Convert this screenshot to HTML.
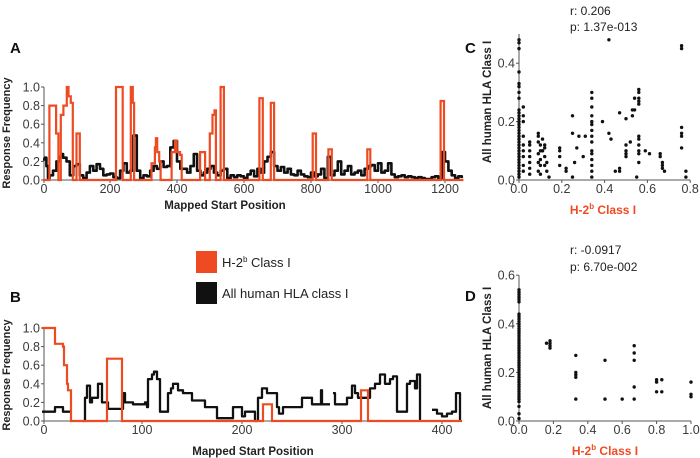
<!DOCTYPE html>
<html><head><meta charset="utf-8"><style>
body{margin:0;background:#fff;}
svg{display:block;font-family:"Liberation Sans",Arial,sans-serif;}
</style></head><body>
<svg id="fig" width="700" height="458" viewBox="0 0 700 458"></svg>
<script>
// ---------- DATA ----------
const ticksA = [0,200,400,600,800,1000,1200];
const ticksB = [0,100,200,300,400];
const yTicksLine = [0,0.2,0.4,0.6,0.8,1.0];
const yTickLabelsLine = ["0.0","0.2","0.4","0.6","0.8","1.0"];
// Panel A orange (H-2b) step vertices: value holds from x[i] to x[i+1]
const orangeAx = [0,19,39,46,53,61,71,76,83,89,100,110,218,238,262,268,272,324,334,337,341,347,351,384,394,399,409,414,469,484,498,506,512,516,530,540,646,656,680,690,805,815,852,862,968,977,1187,1197,1255];
const orangeAy = [0,0.8,0.5,0,0.7,0.8,1.0,0.9,0.83,0,0.5,0,1.0,0,1.0,0.83,0,0.18,0.35,0.45,0.3,0.2,0,0.3,0.42,0.3,0.27,0,0.3,0,0.5,0.7,0.75,0,1.0,0,0.88,0,0.83,0,0.5,0,0.33,0,0.33,0,0.85,0,0];
// Panel A black (human HLA), sampled every 10 positions
const blackAx = [0,5,10,15,20,30,40,50,55,60,70,80,90,100,110,120,130,140,150,160,170,180,190,200,210,220,230,240,250,260,270,280,290,300,310,320,330,340,350,360,370,380,390,400,410,420,430,440,450,460,470,480,490,500,510,520,530,540,550,560,570,580,590,600,610,620,630,640,650,660,670,680,690,700,710,720,730,740,750,760,770,780,790,800,810,820,830,840,850,860,870,880,890,900,910,920,930,940,950,960,970,980,990,1000,1010,1020,1030,1040,1050,1060,1070,1080,1090,1100,1110,1120,1130,1140,1150,1160,1170,1180,1190,1200,1210,1220,1230,1240,1250];
const blackAy = [0.22,0.24,0.15,0.02,0.05,0.1,0.2,0.25,0.28,0.24,0.2,0.05,0.15,0.17,0.05,0.02,0.08,0.15,0.1,0.17,0.12,0.05,0.06,0.07,0.03,0.02,0.1,0.18,0.08,0.1,0.48,0.1,0.02,0.05,0.04,0.1,0.15,0.12,0.2,0.14,0.15,0.35,0.42,0.2,0.12,0.12,0.08,0.15,0.28,0.1,0.05,0.08,0.12,0.15,0.08,0.05,0.1,0.12,0.02,0.05,0.03,0.05,0.04,0.02,0.06,0.1,0.04,0.12,0.08,0.2,0.25,0.3,0.15,0.1,0.14,0.08,0.12,0.06,0.05,0.1,0.06,0.04,0.03,0.08,0.04,0.06,0.12,0.02,0.25,0.05,0.1,0.2,0.06,0.1,0.15,0.06,0.08,0.1,0.05,0.12,0.15,0.16,0.1,0.18,0.08,0.1,0.18,0.06,0.03,0.04,0.05,0.03,0.04,0.03,0.02,0.03,0.02,0.01,0.01,0.03,0.04,0.02,0.3,0.2,0.1,0.05,0.02,0.04,0.02];
// Panel B orange
const orangeBx = [0,13,21,22,25,26,27,29,65,80,221,230,319,326,420];
const orangeBy = [1.0,0.83,0.8,0.6,0.4,0.33,0.33,0,0.67,0,0.18,0,0.33,0,0];
// Panel B black (null = gap)
const blackBx = [0,10,13,20,21,28,29,41,43,45,48,50,56,58,60,65,66,80,81,83,90,91,101,103,105,106,110,112,115,118,125,126,129,131,136,140,141,148,150,161,163,171,175,190,191,198,200,203,211,213,216,220,225,233,235,237,241,250,260,268,270,278,279,280,288,289,291,293,303,305,310,313,316,328,333,338,343,348,351,355,358,361,365,368,371,373,375,376,378,384,390,395,400,405,410,414,418];
const blackBy = [0.1,0.1,0.15,0.15,0.1,0.1,null,0,0.25,0.38,0.2,0.25,0.4,0.4,0.2,0.2,0.13,0.13,0.3,0.2,0.2,0.18,0.18,0.2,0.15,0.45,0.5,0.53,0.45,0.1,0.1,0.3,0.35,0.4,0.33,0.33,0.3,0.3,0.22,0.22,0.15,0.15,0.03,0.03,0.15,0.15,0.05,0.1,0.1,0,0.25,0.35,0.3,0.3,0.15,0.08,0.15,0.15,0.25,0.25,0.18,0.18,0.33,0.18,0.18,null,0.3,0.18,0.18,0.25,0.38,0.3,0.25,0.35,0.4,0.5,0.4,0.45,0.48,0.1,0.1,0.1,0.4,0.43,0.43,0.35,0.5,0.5,0,null,0.12,0.08,0.05,0.08,0.1,0.3,0];
// Panel C scatter
const scatterCx = [0,0,0,0,0,0,0,0,0,0,0,0,0,0,0,0,0,0,0,0,0,0,0,0,0,0,0,0,0,0,0,0,
 0.02,0.02,0.02,0.02,0.02,0.02,0.02,0.02,0.02,
 0.05,0.05,0.05,0.05,0.05,0.05,0.05,
 0.09,0.09,0.09,0.1,0.1,0.09,0.1,0.09,0.1,0.09,0.1,
 0.11,0.12,0.11,0.12,0.13,0.12,0.13,0.12,0.11,0.14,
 0.19,0.19,0.19,0.19,0.22,0.22,0.25,0.25,0.25,0.26,0.27,0.28,0.3,0.31,
 0.34,0.34,0.34,0.34,0.34,0.34,0.34,0.34,0.34,0.34,0.34,0.34,0.34,0.34,0.34,
 0.39,0.42,0.42,0.43,0.45,0.47,0.47,0.47,0.5,0.5,0.5,0.5,0.5,0.52,0.53,0.53,0.54,0.54,0.55,
 0.56,0.56,0.56,0.56,0.56,0.56,0.56,0.56,0.56,0.56,0.56,0.59,0.61,0.66,0.66,0.67,0.67,0.67,0.68,
 0.76,0.76,0.76,0.76,0.76,0.76,0.78,0.78];
const scatterCy = [0.48,0.47,0.45,0.37,0.33,0.32,0.3,0.28,0.24,0.23,0.22,0.21,0.2,0.19,0.18,0.17,0.16,0.15,0.14,0.13,0.12,0.11,0.1,0.09,0.08,0.07,0.06,0.05,0.04,0.03,0.02,0.01,
 0.25,0.22,0.2,0.15,0.12,0.1,0.08,0.05,0.03,
 0.13,0.12,0.1,0.08,0.06,0.04,0.02,
 0.16,0.15,0.13,0.12,0.1,0.09,0.07,0.06,0.05,0.03,0.02,
 0.14,0.12,0.1,0.08,0.06,0.05,0.03,0.11,0.1,0.01,
 0.11,0.1,0.08,0.05,0.04,0.03,0.22,0.16,0.01,0.06,0.11,0.15,0.08,0.15,
 0.3,0.28,0.25,0.22,0.2,0.19,0.17,0.15,0.13,0.1,0.09,0.07,0.05,0.03,0.01,
 0.2,0.48,0.16,0.14,0.03,0.23,0.04,0.03,0.21,0.12,0.1,0.09,0.08,0.13,0.24,0.22,0.28,0.24,0.01,
 0.31,0.3,0.28,0.27,0.26,0.15,0.14,0.12,0.1,0.09,0.06,0.1,0.09,0.09,0.08,0.06,0.05,0.04,0.03,
 0.46,0.45,0.18,0.16,0.15,0.11,0.03,0.01];
const xTicksC = [0,0.2,0.4,0.6,0.8];
const yTicksC = [0,0.2,0.4];
// Panel D scatter
const scatterDx = [0,0,0,0,0,0,0,0,0,0,0,0,0,0,0,0,0,0,0,0,0,0,0,0,0,0,0,0,0,0,0,0,0,0,0,0,0,0,0,0,0,0,0,0,0,0,
 0.16,0.18,0.18,0.18,0.18,0.33,0.33,0.33,0.33,0.33,0.5,0.5,0.6,0.67,0.67,0.67,0.67,0.67,0.8,0.8,0.8,0.83,0.83,1.0,1.0,1.0];
const scatterDy = [0.54,0.53,0.52,0.51,0.5,0.49,0.44,0.43,0.42,0.41,0.4,0.39,0.38,0.37,0.36,0.35,0.34,0.33,0.32,0.31,0.3,0.29,0.28,0.27,0.26,0.25,0.24,0.23,0.22,0.21,0.2,0.19,0.18,0.17,0.16,0.15,0.14,0.13,0.12,0.11,0.1,0.09,0.08,0.06,0.03,0.01,
 0.32,0.33,0.32,0.31,0.3,0.27,0.2,0.19,0.18,0.09,0.25,0.09,0.09,0.31,0.28,0.25,0.14,0.09,0.17,0.16,0.12,0.17,0.12,0.16,0.11,0.1];
const xTicksD = [0,0.2,0.4,0.6,0.8,1.0];
const yTicksD = [0,0.2,0.4,0.6];

// ---------- HELPERS ----------
const NS="http://www.w3.org/2000/svg";
const svg=document.getElementById('fig');
function mk(tag,attrs,parent,txt){const e=document.createElementNS(NS,tag);for(const k in attrs)e.setAttribute(k,attrs[k]);if(txt!==undefined)e.textContent=txt;(parent||svg).appendChild(e);return e;}
const ORANGE="#ef4b23", TXT="#3a3a3a";
const fmt=v=>v.toFixed(1);

function axes(g,xs,ys,x0,x1,y0,y1,xt,xl,yt,yl){
  mk('line',{x1:x0,y1:y0,x2:x1,y2:y0,stroke:'#555','stroke-width':1},g);
  mk('line',{x1:x0,y1:y0,x2:x0,y2:y1,stroke:'#555','stroke-width':1},g);
  xt.forEach((v,i)=>{const x=Math.max(x0,xs(v));
    mk('line',{x1:x,y1:y0,x2:x,y2:y0+3,stroke:'#555'},g);
    const t=mk('text',{x:x,y:y0+13,'text-anchor':'middle','font-size':12.5,fill:TXT},g,xl[i]);
    
    });
  yt.forEach((v,i)=>{const y=ys(v);
    mk('line',{x1:x0-3,y1:y,x2:x0,y2:y,stroke:'#555'},g);
    const t=mk('text',{x:x0-4,y:y+4.5,'text-anchor':'end','font-size':12.5,fill:TXT},g,yl[i]);
    
    });
}
function stepPath(xs,ys,X,Y){let d="",pen=false;
  for(let i=0;i<X.length;i++){ if(Y[i]===null){pen=false;continue;}
    const x=xs(X[i]).toFixed(1),y=ys(Y[i]).toFixed(1);
    if(!pen){d+="M"+x+","+y;pen=true;} else {d+="H"+x+"V"+y;}
  } return d;}

// ---------- PANEL A ----------
const gA=mk('g',{});  
const xA=v=>43+0.335*v, yA=v=>180-93*v;
axes(gA,xA,yA,44,xA(1255),180,yA(1.0),ticksA,ticksA.map(String),yTicksLine,yTickLabelsLine);
const bA=mk('path',{d:stepPath(xA,yA,blackAx,blackAy),fill:'none',stroke:'#111','stroke-width':2.6,'stroke-linejoin':'round'},gA);
 
const oA=mk('path',{d:stepPath(xA,yA,orangeAx,orangeAy),fill:'none',stroke:ORANGE,'stroke-width':2.2},gA);
 
mk('text',{x:10,y:53,'font-size':15,'font-weight':'bold',fill:'#111',},gA,'A');
mk('text',{x:0,y:0,transform:'translate(10,133) rotate(-90)','text-anchor':'middle','font-size':11,'font-weight':'bold',fill:'#222',},gA,'Response Frequency');
mk('text',{x:225,y:209,'text-anchor':'middle','font-size':11.5,'font-weight':'bold',fill:'#222',},gA,'Mapped Start Position');

// ---------- LEGEND ----------
const gL=mk('g',{});  
mk('rect',{x:196,y:251,width:21,height:22,fill:ORANGE,},gL);
const lt=mk('text',{x:222,y:267,'font-size':13,fill:'#222',},gL);
lt.innerHTML='H-2<tspan dy="-5" font-size="8">b</tspan><tspan dy="5"> Class I</tspan>';
mk('rect',{x:196,y:282,width:21,height:22,fill:'#111',},gL);
mk('text',{x:222,y:298,'font-size':13,fill:'#222',},gL,'All human HLA class I');

// ---------- PANEL B ----------
const gB=mk('g',{});  
const xB=v=>42+v, yB=v=>421-93*v;
axes(gB,xB,yB,44,xB(420),421,yB(1.0),ticksB,ticksB.map(String),yTicksLine,yTickLabelsLine);
const bB=mk('path',{d:stepPath(xB,yB,blackBx,blackBy),fill:'none',stroke:'#111','stroke-width':2.3,'stroke-linejoin':'round'},gB);
 
const oB=mk('path',{d:stepPath(xB,yB,orangeBx,orangeBy),fill:'none',stroke:ORANGE,'stroke-width':2.2},gB);
 
mk('text',{x:10,y:302,'font-size':15,'font-weight':'bold',fill:'#111',},gB,'B');
mk('text',{x:0,y:0,transform:'translate(10,375) rotate(-90)','text-anchor':'middle','font-size':11,'font-weight':'bold',fill:'#222',},gB,'Response Frequency');
mk('text',{x:253,y:455,'text-anchor':'middle','font-size':11.5,'font-weight':'bold',fill:'#222',},gB,'Mapped Start Position');

// ---------- SCATTER ----------
function scatter(name,xs,ys,X,Y,g){X.forEach((v,i)=>{const c=mk('circle',{cx:xs(v).toFixed(1),cy:ys(Y[i]).toFixed(1),r:1.7,fill:'#111'},g);
   });}
function xtitle(g,x,y,name){const t=mk('text',{x:x,y:y,'text-anchor':'middle','font-size':12,'font-weight':'bold',fill:ORANGE,},g);
  t.innerHTML='H-2<tspan dy="-5" font-size="8">b</tspan><tspan dy="5"> Class I</tspan>';}

const gC=mk('g',{});  
const xC=v=>519+214*v, yC=v=>180-292*v;
axes(gC,xC,yC,519,xC(0.8),180,yC(0.5),xTicksC,xTicksC.map(fmt),yTicksC,yTicksC.map(fmt));
scatter('scatter-point-c',xC,yC,scatterCx,scatterCy,gC);
mk('text',{x:570,y:15,'font-size':12,fill:'#222',},gC,'r:  0.206');
mk('text',{x:570,y:31,'font-size':12,fill:'#222',},gC,'p: 1.37e-013');
mk('text',{x:465,y:53,'font-size':15,'font-weight':'bold',fill:'#111',},gC,'C');
mk('text',{x:0,y:0,transform:'translate(491,102) rotate(-90)','text-anchor':'middle','font-size':11.5,'font-weight':'bold',fill:'#222',},gC,'All human HLA Class I');
xtitle(gC,603,214,'x-axis-title-c');

const gD=mk('g',{});  
const xD=v=>519+172*v, yD=v=>421-243*v;
axes(gD,xD,yD,519,xD(1.0),421,yD(0.6),xTicksD,xTicksD.map(fmt),yTicksD,yTicksD.map(fmt));
scatter('scatter-point-d',xD,yD,scatterDx,scatterDy,gD);
mk('text',{x:570,y:254,'font-size':12,fill:'#222',},gD,'r:  -0.0917');
mk('text',{x:570,y:271,'font-size':12,fill:'#222',},gD,'p: 6.70e-002');
mk('text',{x:465,y:301,'font-size':15,'font-weight':'bold',fill:'#111',},gD,'D');
mk('text',{x:0,y:0,transform:'translate(491,348) rotate(-90)','text-anchor':'middle','font-size':11.5,'font-weight':'bold',fill:'#222',},gD,'All human HLA Class I');
xtitle(gD,605,455,'x-axis-title-d');
</script>
</body></html>
